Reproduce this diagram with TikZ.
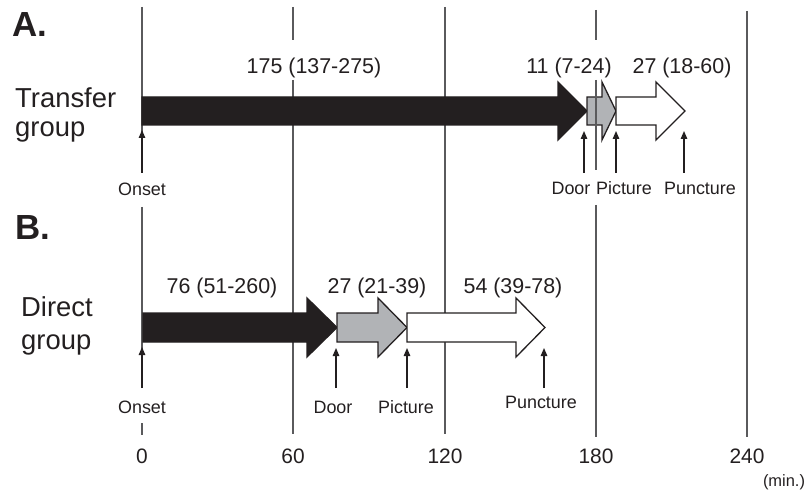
\documentclass[tikz,border=0pt]{standalone}
\usepackage{fontspec}
\setmainfont{Liberation Sans}
\usetikzlibrary{arrows.meta}
\definecolor{ink}{HTML}{231F20}
\definecolor{gridc}{HTML}{5A5A5C}
\definecolor{midgray}{HTML}{B1B3B6}
\begin{document}
\begin{tikzpicture}[x=1bp,y=-1bp,
  gridln/.style={draw=gridc,line width=1.1bp},
  blk/.style={draw=ink,line width=1.3bp,line join=miter},
  ptr/.style={draw=ink,line width=1.3bp,-{Triangle[width=6.5bp,length=8bp]}},
  ev/.style={font=\fontsize{18}{20}\selectfont,text=ink,anchor=base,inner sep=0pt},
  dur/.style={font=\fontsize{21.5}{24}\selectfont,text=ink,anchor=base,inner sep=0pt},
  tick/.style={font=\fontsize{21}{24}\selectfont,text=ink,anchor=base,inner sep=0pt},
  grp/.style={font=\fontsize{27.5}{30}\selectfont,text=ink,anchor=base west,inner sep=0pt},
  panel/.style={font=\fontsize{35}{38}\selectfont\bfseries,text=ink,anchor=base west,inner sep=0pt}
]
\useasboundingbox (0,0) rectangle (806,494);

% ---- grid lines
\draw[gridln] (142,7) -- (142,172) (142,207) -- (142,388) (142,423) -- (142,435);
\draw[gridln] (293,7) -- (293,40) (293,80) -- (293,434);
\draw[gridln] (445,7) -- (445,434);
\draw[gridln] (596,10) -- (596,40) (596,205) -- (596,437);
\draw[gridln] (747,11) -- (747,437);

% ---- Panel A block arrows
\draw[blk,fill=ink] (142,97) -- (558,97) -- (558,82) -- (587,111) -- (558,140) -- (558,125) -- (142,125) -- cycle;
\draw[blk,fill=midgray] (587,97) -- (602,97) -- (602,82) -- (616,111) -- (602,140) -- (602,125) -- (587,125) -- cycle;
\draw[blk,fill=white] (616,97) -- (656,97) -- (656,82) -- (685,111) -- (656,140) -- (656,125) -- (616,125) -- cycle;
% the 180 line passes over the grey arrow of panel A
\draw[gridln] (596,80) -- (596,170);

% ---- Panel B block arrows
\draw[blk,fill=ink] (143,313) -- (307,313) -- (307,298) -- (337,327.5) -- (307,357) -- (307,342) -- (143,342) -- cycle;
\draw[blk,fill=midgray] (337,313) -- (378,313) -- (378,298) -- (407,327.5) -- (378,357) -- (378,342) -- (337,342) -- cycle;
\draw[blk,fill=white] (407,313) -- (516,313) -- (516,298) -- (545,327.5) -- (516,357) -- (516,342) -- (407,342) -- cycle;

% ---- panel titles and group names
\node[panel] (pA) at (12,37) {A.};
\node[panel] (pB) at (15,240) {B.};
\node[grp] (gA1) at (15,108) {Transfer};
\node[grp] (gA2) at (15,137) {group};
\node[grp] (gB1) at (21,317) {Direct};
\node[grp] (gB2) at (21,349) {group};

% ---- durations
\node[dur] (dA1) at (314,74) {175 (137-275)};
\node[dur] (dA2) at (569,74) {11 (7-24)};
\node[dur] (dA3) at (682,74) {27 (18-60)};
\node[dur] (dB1) at (222,294) {76 (51-260)};
\node[dur] (dB2) at (377,294) {27 (21-39)};
\node[dur] (dB3) at (513,294) {54 (39-78)};

% ---- event labels
\node[ev] (eA1) at (142,196) {Onset};
\node[ev] (eA2) at (571,195) {Door};
\node[ev] (eA3) at (624,195) {Picture};
\node[ev] (eA4) at (700,195) {Puncture};
\node[ev] (eB1) at (142,413) {Onset};
\node[ev] (eB2) at (333,413) {Door};
\node[ev] (eB3) at (406,413) {Picture};
\node[ev] (eB4) at (541,408) {Puncture};

% ---- event pointers
\coordinate (sA1) at (142,173); \coordinate (tA1) at (142,130);
\coordinate (sA2) at (584,173); \coordinate (tA2) at (584,131);
\coordinate (sA3) at (616,173); \coordinate (tA3) at (616,131);
\coordinate (sA4) at (684,173); \coordinate (tA4) at (684,131);
\coordinate (sB1) at (142,388); \coordinate (tB1) at (142,347);
\coordinate (sB2) at (336,388); \coordinate (tB2) at (336,348);
\coordinate (sB3) at (407,388); \coordinate (tB3) at (407,348);
\coordinate (sB4) at (544,388); \coordinate (tB4) at (544,348);
\foreach \p in {A1,A2,A3,A4,B1,B2,B3,B4} {\draw[ptr] (s\p) -- (t\p);}

% ---- axis labels
\node[tick] (x0) at (142,463) {0};
\node[tick] (x60) at (293,463) {60};
\node[tick] (x120) at (445,463) {120};
\node[tick] (x180) at (596,463) {180};
\node[tick] (x240) at (747,463) {240};
\node[font=\fontsize{16.5}{18}\selectfont,text=ink,anchor=base,inner sep=0pt] (unit) at (784,486) {(min.)};
\end{tikzpicture}
\end{document}
